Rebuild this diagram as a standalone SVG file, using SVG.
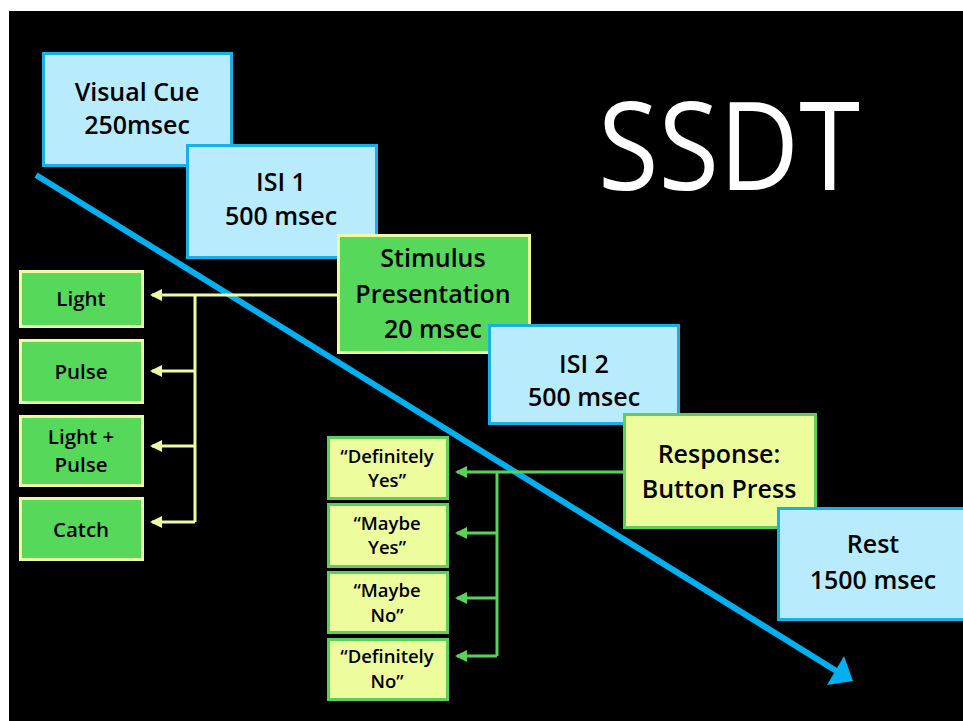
<svg xmlns="http://www.w3.org/2000/svg" width="963" height="721" viewBox="0 0 963 721">
<defs>
<style>
.blue{fill:#B8ECFC;stroke:#19AFEA;stroke-width:3}
.green{fill:#56D95A;stroke:#EEFB9E;stroke-width:3}
.yel{fill:#EDFD9D;stroke:#5CD15A;stroke-width:3}
text{font-family:"Open Sans","Liberation Sans",sans-serif;font-weight:600;fill:#000;text-anchor:middle}
.t1{font-size:25px}
.t2{font-size:20.5px}
.t3{font-size:18.5px}
.yc{fill:none;stroke:#EEFB9E;stroke-width:3}
.gc{fill:none;stroke:#5CD15A;stroke-width:3}
</style>
</defs>
<rect x="0" y="0" width="963" height="721" fill="#fff"/>
<rect x="9" y="11" width="954" height="710" fill="#000"/>
<text x="729" y="190" style="font-size:122px;font-weight:400;fill:#fff" textLength="262" lengthAdjust="spacingAndGlyphs">SSDT</text>
<g id="timeline">
<line x1="36" y1="175" x2="838" y2="672" stroke="#00B0F0" stroke-width="6"/>
<polygon points="853,681 827,685 844,656" fill="#00B0F0"/>
</g>
<g id="connectors">
<path class="yc" d="M337,295 H152"/>
<path class="yc" d="M195,295 V522"/>
<path class="yc" d="M195,371 H152 M195,446 H152 M195,522 H152"/>
<path class="gc" d="M623,472 H457"/>
<path class="gc" d="M497,472 V656"/>
<path class="gc" d="M497,533 H457 M497,598 H457 M497,656 H457"/>
<g fill="#EEFB9E">
<polygon points="150,295 162,289 162,301"/>
<polygon points="150,371 162,365 162,377"/>
<polygon points="150,446 162,440 162,452"/>
<polygon points="150,522 162,516 162,528"/>
</g>
<g fill="#5CD15A">
<polygon points="455,472 467,466 467,478"/>
<polygon points="455,533 467,527 467,539"/>
<polygon points="455,598 467,592 467,604"/>
<polygon points="455,656 467,650 467,662"/>
</g>
</g>
<g id="visual-cue"><rect class="blue" x="43.5" y="53.5" width="188" height="112"/><text class="t1" x="137" y="101">Visual Cue</text><text class="t1" x="137" y="134">250msec</text></g>
<g id="isi1"><rect class="blue" x="187.5" y="145.5" width="189" height="112"/><text class="t1" x="281" y="191">ISI 1</text><text class="t1" x="281" y="225">500 msec</text></g>
<g id="stimulus"><rect class="green" x="338.5" y="235.5" width="191" height="117"/><text class="t1" x="433" y="267">Stimulus</text><text class="t1" x="433" y="303">Presentation</text><text class="t1" x="433" y="338">20 msec</text></g>
<g id="isi2"><rect class="blue" x="489.5" y="325.5" width="189" height="98"/><text class="t1" x="584" y="373">ISI 2</text><text class="t1" x="584" y="406">500 msec</text></g>
<g id="response"><rect class="yel" x="624.5" y="414.5" width="191" height="113"/><text class="t1" x="719" y="463">Response:</text><text class="t1" x="719" y="498">Button Press</text></g>
<g id="rest"><rect class="blue" x="778.5" y="508.5" width="190" height="111"/><text class="t1" x="873" y="553">Rest</text><text class="t1" x="873" y="589">1500 msec</text></g>
<g id="light"><rect class="green" x="20.5" y="271.5" width="122" height="55"/><text class="t2" x="81" y="306">Light</text></g>
<g id="pulse"><rect class="green" x="20.5" y="340.5" width="122" height="62"/><text class="t2" x="81" y="379">Pulse</text></g>
<g id="light-pulse"><rect class="green" x="20.5" y="416.5" width="122" height="69"/><text class="t2" x="81" y="444">Light +</text><text class="t2" x="81" y="472">Pulse</text></g>
<g id="catch"><rect class="green" x="20.5" y="498.5" width="122" height="61"/><text class="t2" x="81" y="537">Catch</text></g>
<g id="def-yes"><rect class="yel" x="328.5" y="437.5" width="119" height="61"/><text class="t3" x="387" y="463">“Definitely</text><text class="t3" x="387" y="487">Yes”</text></g>
<g id="maybe-yes"><rect class="yel" x="328.5" y="504.5" width="119" height="62"/><text class="t3" x="387" y="530">“Maybe</text><text class="t3" x="387" y="554">Yes”</text></g>
<g id="maybe-no"><rect class="yel" x="328.5" y="572.5" width="119" height="60"/><text class="t3" x="387" y="597">“Maybe</text><text class="t3" x="387" y="622">No”</text></g>
<g id="def-no"><rect class="yel" x="328.5" y="639.5" width="119" height="60"/><text class="t3" x="387" y="663">“Definitely</text><text class="t3" x="387" y="688">No”</text></g>
</svg>
